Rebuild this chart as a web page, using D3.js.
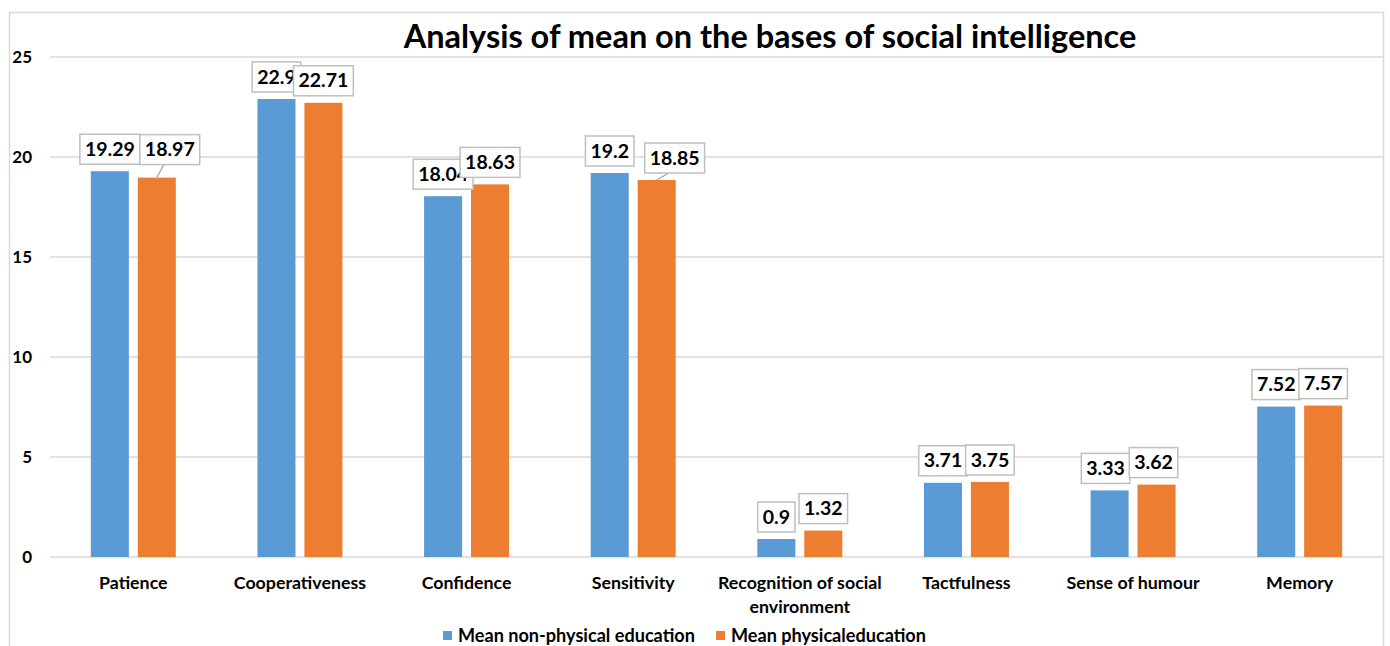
<!DOCTYPE html>
<html>
<head>
<meta charset="utf-8">
<script src="https://cdn.jsdelivr.net/npm/d3@7"></script>
<style>
  html, body { margin: 0; padding: 0; background: #fff; }
  svg { display: block; }
  text { font-family: Lato, "Liberation Sans", Arial, sans-serif; font-weight: bold; fill: #000; }
</style>
</head>
<body>
<svg id="chart" width="1390" height="646"></svg>
<script>
// ---- data ----
const categories = ["Patience", "Cooperativeness", "Confidence", "Sensitivity",
  "Recognition of social environment", "Tactfulness", "Sense of humour", "Memory"];
const seriesNames = ["Mean non-physical education", "Mean physicaleducation"];
const nonPhysical = [19.29, 22.9, 18.04, 19.2, 0.9, 3.71, 3.33, 7.52];
const physical    = [18.97, 22.71, 18.63, 18.85, 1.32, 3.75, 3.62, 7.57];
const yTicks = [0, 5, 10, 15, 20, 25];
const title = "Analysis of mean on the bases of social intelligence";

// ---- style ----
const colors = ["#5b9bd5", "#ed7d31"];
// label nudges (dx, dy) per series per category, mimicking moved labels
const labelNudge = [
  [[0,0],[0,0],[0,0],[0,0],[0,0],[0,0],[-4,0],[0,0]],
  [[13,-6],[0,0],[0,0],[18,0],[0,0],[0,0],[-3,0],[0,0]]
];

const svg = d3.select("#chart");
const plot = { left: 50, right: 1383, top: 57, bottom: 557 };

// outer border
svg.append("rect")
  .attr("x", 9.5).attr("y", 12.5)
  .attr("width", 1374).attr("height", 700)
  .attr("fill", "none").attr("stroke", "#d9d9d9").attr("stroke-width", 1.5);

const x0 = d3.scaleBand().domain(categories).range([plot.left, plot.right])
  .paddingInner(0.49).paddingOuter(0.245);
const x1 = d3.scaleBand().domain(seriesNames).range([0, x0.bandwidth()]).paddingInner(0.19);
const y = d3.scaleLinear().domain([0, 25]).range([plot.bottom, plot.top]);

// gridlines
svg.append("g").selectAll("line").data(yTicks).join("line")
  .attr("x1", plot.left).attr("x2", plot.right)
  .attr("y1", d => y(d)).attr("y2", d => y(d))
  .attr("stroke", "#d9d9d9").attr("stroke-width", 1.5);

// y axis labels
const yAxis = d3.axisLeft(y).tickValues(yTicks).tickSize(0).tickPadding(0);
const yg = svg.append("g").attr("transform", `translate(32,0)`).call(yAxis);
yg.select(".domain").remove();
yg.selectAll("text").attr("font-size", 17).attr("font-family", "Lato, 'Liberation Sans', Arial, sans-serif")
  .attr("font-weight", "bold").attr("fill", "#000");

// bars
const data = categories.map((c, i) => ({ cat: c, vals: [nonPhysical[i], physical[i]] }));
const groups = svg.append("g").selectAll("g").data(data).join("g")
  .attr("transform", d => `translate(${x0(d.cat)},0)`);
groups.selectAll("rect").data(d => d.vals.map((v, s) => ({ v, s, name: seriesNames[s] })))
  .join("rect")
  .attr("x", d => x1(d.name)).attr("width", x1.bandwidth())
  .attr("y", d => y(d.v)).attr("height", d => y(0) - y(d.v))
  .attr("fill", d => colors[d.s]);

// x category labels
const xg = svg.append("g");
categories.forEach(c => {
  const cx = x0(c) + x0.bandwidth() / 2;
  const lines = c === "Recognition of social environment" ? ["Recognition of social", "environment"] : [c];
  lines.forEach((ln, k) => {
    xg.append("text").attr("x", cx).attr("y", 589 + k * 24)
      .attr("text-anchor", "middle").attr("font-size", 17.8).text(ln);
  });
});

// data labels
const lblG = svg.append("g");
const boxH = 30;
[0, 1].forEach(s => {
  data.forEach((d, i) => {
    const v = d.vals[s];
    const bx = x0(d.cat) + x1(seriesNames[s]) + x1.bandwidth() / 2;
    const by = y(v);
    const [dx, dy] = labelNudge[s][i];
    const cx = bx + dx;
    const bottom = by - 7 + dy;
    const g = lblG.append("g");
    const t = g.append("text").attr("x", cx).attr("y", bottom - 8.5)
      .attr("text-anchor", "middle").attr("font-size", 19.5).text(String(v));
    const tw = t.node().getComputedTextLength();
    const bw = tw + 10;
    g.insert("rect", "text")
      .attr("x", cx - bw / 2).attr("y", bottom - boxH)
      .attr("width", bw).attr("height", boxH)
      .attr("fill", "#fff").attr("stroke", "#bfbfbf").attr("stroke-width", 1.5);
    if (dx > 10) {
      lblG.insert("line", ":first-child")
        .attr("x1", bx).attr("y1", by)
        .attr("x2", cx - bw / 2 + 24).attr("y2", bottom)
        .attr("stroke", "#a6a6a6").attr("stroke-width", 1.2);
    }
  });
});

// title
svg.append("text").attr("x", 770).attr("y", 48).attr("text-anchor", "middle")
  .attr("font-size", 32.5).text(title);

// legend
const leg = svg.append("g");
const legX = [443, 716];
seriesNames.forEach((n, s) => {
  leg.append("rect").attr("x", legX[s]).attr("y", 631).attr("width", 9).attr("height", 9)
    .attr("fill", colors[s]);
  leg.append("text").attr("x", legX[s] + 15).attr("y", 642).attr("font-size", 18.1).text(n);
});
</script>
</body>
</html>
